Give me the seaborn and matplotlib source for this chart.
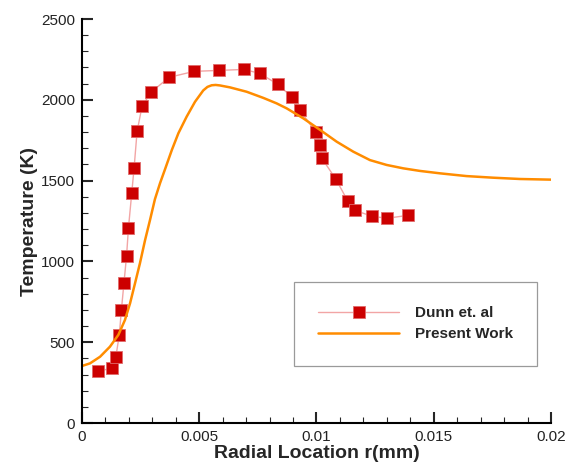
import numpy as np
import pandas as pd
import seaborn as sns
import matplotlib
matplotlib.use("Agg")
import matplotlib.pyplot as plt
from matplotlib.ticker import MultipleLocator, FixedFormatter, FixedLocator

# Dunn et. al (experiment)
dunn_r = [0.00070, 0.00127, 0.00144, 0.00159, 0.00168, 0.00179, 0.00190, 0.00198,
          0.00212, 0.00222, 0.00235, 0.00256, 0.00294, 0.00371, 0.00478, 0.00584,
          0.00691, 0.00759, 0.00836, 0.00896, 0.00930, 0.00998, 0.01015, 0.01023,
          0.01083, 0.01134, 0.01164, 0.01237, 0.01301, 0.01390]
dunn_T = [322, 338, 406, 545, 699, 868, 1033, 1205,
          1421, 1576, 1805, 1959, 2046, 2139, 2176, 2182,
          2188, 2163, 2095, 2015, 1934, 1798, 1718, 1638,
          1508, 1372, 1316, 1279, 1267, 1285]

# Present Work (simulation)
work_r = [0.0, 0.00034, 0.00077, 0.00119, 0.00155, 0.00183, 0.00205, 0.00226,
          0.00247, 0.00269, 0.0029, 0.00311, 0.00333, 0.00354, 0.00383, 0.00411,
          0.00446, 0.00482, 0.00517, 0.00535, 0.00553, 0.0057, 0.00588, 0.00631,
          0.00702, 0.00773, 0.0083, 0.00873, 0.00944, 0.01015, 0.01086, 0.01157,
          0.01228, 0.01299, 0.0137, 0.01441, 0.01527, 0.0164, 0.01754, 0.01868, 0.02]
work_T = [353, 369, 410, 472, 545, 637, 741, 864,
          988, 1132, 1256, 1385, 1485, 1570, 1689, 1793,
          1895, 1988, 2058, 2080, 2090, 2092, 2089, 2077,
          2050, 2012, 1978, 1947, 1885, 1814, 1741, 1679,
          1627, 1597, 1576, 1560, 1545, 1528, 1518, 1510, 1506]

dunn = pd.DataFrame({"r": dunn_r, "T": dunn_T})
work = pd.DataFrame({"r": work_r, "T": work_T})

sns.set_style("ticks")
plt.rcParams["font.family"] = ["Liberation Sans", "DejaVu Sans"]

fig = plt.figure(figsize=(5.73, 4.65), dpi=100)
ax = fig.add_axes([0.1431, 0.0903, 0.8185, 0.8688])

sns.lineplot(data=dunn, x="r", y="T", ax=ax, color="#F2A5A5", lw=1,
             marker="s", markersize=8.5, markerfacecolor="#CC0000",
             markeredgecolor="#E06A6A", markeredgewidth=0.6, label="Dunn et. al")
sns.lineplot(data=work, x="r", y="T", ax=ax, color="#FF8C00", lw=1.8,
             label="Present Work")

ax.set_xlim(0, 0.02)
ax.set_ylim(0, 2500)
ax.xaxis.set_major_locator(FixedLocator([0, 0.005, 0.01, 0.015, 0.02]))
ax.xaxis.set_major_formatter(FixedFormatter(["0", "0.005", "0.01", "0.015", "0.02"]))
ax.xaxis.set_minor_locator(MultipleLocator(0.001))
ax.yaxis.set_major_locator(MultipleLocator(500))
ax.yaxis.set_minor_locator(MultipleLocator(100))

ax.tick_params(which="major", direction="in", length=8, width=1.5, labelsize=11,
               pad=5, labelcolor="#222222")
ax.tick_params(which="minor", direction="in", length=4.5, width=0.8)
for s in ["left", "bottom"]:
    ax.spines[s].set_linewidth(1.5)
    ax.spines[s].set_color("black")
sns.despine(ax=ax)

ax.set_xlabel("Radial Location r(mm)", fontsize=14, fontweight="bold", labelpad=1)
ax.set_ylabel("Temperature (K)", fontsize=14, fontweight="bold", labelpad=2)

leg = ax.legend(loc="upper left", bbox_to_anchor=((294 - 82) / 469, (423 - 282) / 404),
                frameon=True, fancybox=False, edgecolor="#9a9a9a", framealpha=1,
                prop={"weight": "bold", "size": 11}, handlelength=5.3,
                borderpad=1.6, borderaxespad=0, labelspacing=0.45, handletextpad=1.0)
leg.get_frame().set_linewidth(0.9)

fig.savefig("out.png", dpi=100)
